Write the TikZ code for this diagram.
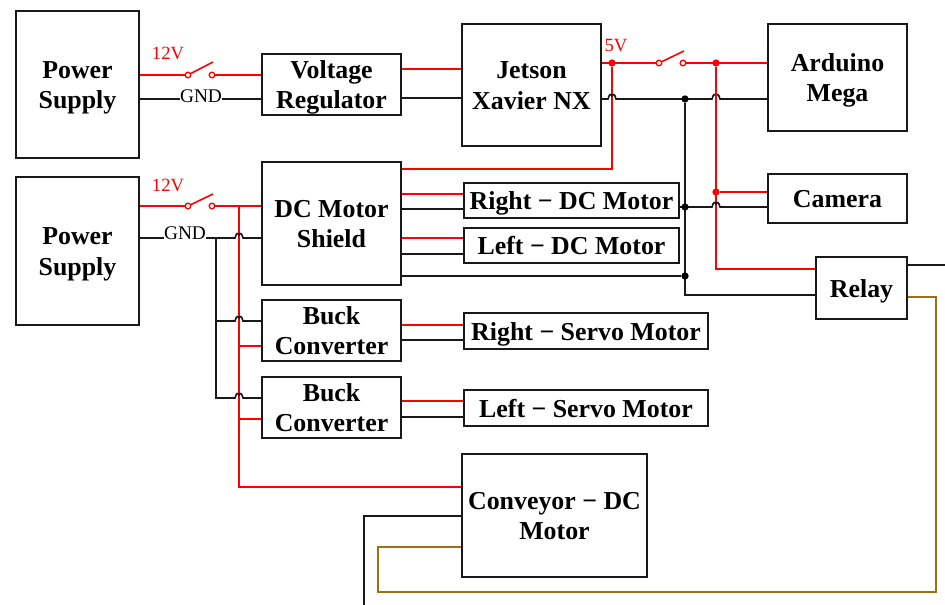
\documentclass[tikz,border=0pt]{standalone}
\usepackage{fontspec}
\usetikzlibrary{backgrounds}
\setmainfont{Liberation Serif}
\definecolor{wred}{RGB}{255,0,0}
\definecolor{wbrown}{RGB}{160,110,20}
\newcommand{\st}{\rule[-4.65pt]{0pt}{23pt}}
\tikzset{
  blk/.style={draw=black!90,line width=1.5pt,fill=white,inner sep=0pt,align=center,
    font=\bfseries\fontsize{19.4}{23}\selectfont},
  rw/.style={draw=wred,line width=1.2pt},
  kw/.style={draw=black!90,line width=1.2pt},
  bw/.style={draw=wbrown,line width=1.2pt},
  terminal/.style={circle,draw=wred,line width=1pt,minimum size=4.2pt,inner sep=0pt},
  rdot/.style={circle,fill=wred,inner sep=0pt,minimum size=5.5pt},
  kdot/.style={circle,fill=black,inner sep=0pt,minimum size=5.5pt},
  lab/.style={inner sep=0pt,font=\fontsize{14}{16}\selectfont},
  gndlab/.style={inner sep=0pt,font=\fontsize{14.5}{16}\selectfont}
}
\newcommand{\bx}[6]{\node[blk,minimum width={(#4-#2)*.75pt},minimum height={(#5-#3)*.75pt}] (#1) at ({(#2+#4)/2},{(#3+#5)/2}) {#6};}
\newcommand{\hop}[2]{-- (#1-4,#2) .. controls (#1-2.5,#2-6) and (#1-1,#2-5) .. (#1,#2-3) .. controls (#1+1,#2-5) and (#1+2.5,#2-6) .. (#1+4,#2)}
\begin{document}
\begin{tikzpicture}[x=.75pt,y=-.75pt]
\useasboundingbox (0,0) rectangle (945,605);
% boxes
\bx{psa}{16}{11}{139}{158}{\st Power\\\st Supply}
\bx{psb}{16}{177}{139}{325}{\st Power\\\st Supply}
\bx{vr}{262}{54}{401}{115}{\st Voltage\\\st Regulator}
\bx{jet}{462}{24}{601}{146}{\st Jetson\\\st Xavier NX}
\bx{ard}{768}{24}{907}{131}{\st Arduino\\\st Mega}
\bx{cam}{768}{174}{907}{223}{\st Camera}
\bx{rel}{816}{257}{907}{319}{\st Relay}
\bx{dcs}{262}{162}{401}{285}{\st DC Motor\\\st Shield}
\bx{rdc}{464}{183}{679}{218}{\st Right − DC Motor}
\bx{ldc}{464}{228}{679}{263}{\st Left − DC Motor}
\bx{bka}{262}{300}{401}{361}{\st Buck\\\st Converter}
\bx{bkb}{262}{377}{401}{438}{\st Buck\\\st Converter}
\bx{rsv}{464}{313}{708}{349}{\st Right − Servo Motor}
\bx{lsv}{464}{390}{708}{426}{\st Left − Servo Motor}
\bx{con}{462}{454}{647}{577}{\st Conveyor − DC\\\st Motor}
% terminals
\node[terminal] (s1a) at (188,75) {};
\node[terminal] (s1b) at (212,75) {};
\node[terminal] (s2a) at (188,206) {};
\node[terminal] (s2b) at (212,206) {};
\node[terminal] (s3a) at (659,63) {};
\node[terminal] (s3b) at (683,63) {};
\coordinate (s1t) at (213,62);
\coordinate (s2t) at (213,194);
\coordinate (s3t) at (684,51);
% junctions
\node[rdot] (j5v) at (612,63) {};
\node[rdot] (jr) at (716,63) {};
\node[rdot] (jcam) at (716,192) {};
\node[kdot] (jk) at (685,99) {};
\node[kdot] (jkcam) at (685,207) {};
\node[kdot] (jkdc) at (685,276) {};
\coordinate (r12) at (239,206);
\coordinate (k12) at (216,238);
% free ends and corners
\coordinate (relayout) at (945,265);
\coordinate (confree) at (364,605);
\coordinate (brA) at (936,297);
\coordinate (brB) at (936,592);
\coordinate (brC) at (378,592);
\coordinate (brD) at (378,547);
% labels
\node[lab,text=wred] (v1) at (168,53) {12V};
\node[lab,text=wred] (v2) at (168,185) {12V};
\node[lab,text=wred] (v3) at (616,46) {5V};
\node[gndlab] (g1) at (201,96) {GND};
\node[gndlab] (g2) at (185,233) {GND};
% wires
\begin{scope}[on background layer]
\draw[rw] (psa.east |- s1a) -- (s1a);
\draw[rw] (s1a) -- (s1t);
\draw[rw] (s1b) -- (vr.west |- s1b);
\draw[kw] (psa.east |- 0,99) -- (g1.west |- 0,99);
\draw[kw] (g1.east |- 0,99) -- (vr.west |- 0,99);
\draw[rw] (vr.east |- 0,69) -- (jet.west |- 0,69);
\draw[kw] (vr.east |- 0,98) -- (jet.west |- 0,98);
\draw[rw] (jet.east |- s3a) -- (s3a);
\draw[rw] (s3a) -- (s3t);
\draw[rw] (s3b) -- (ard.west |- s3b);
\draw[rw] (j5v) -- (612,169) -- (dcs.east |- 0,169);
\draw[kw] (jet.east |- jk) \hop{612}{99} \hop{716}{99} -- (ard.west |- jk);
\draw[kw] (jk) -- (685,295) -- (rel.west |- 0,295);
\draw[rw] (jr) -- (716,269) -- (rel.west |- 0,269);
\draw[rw] (jcam) -- (cam.west |- jcam);
\draw[kw] (rdc.east |- jkcam) \hop{716}{207} -- (cam.west |- jkcam);
\draw[kw] (dcs.east |- jkdc) -- (jkdc);
\draw[rw] (dcs.east |- 0,194) -- (rdc.west |- 0,194);
\draw[kw] (dcs.east |- 0,209) -- (rdc.west |- 0,209);
\draw[rw] (dcs.east |- 0,238) -- (ldc.west |- 0,238);
\draw[kw] (dcs.east |- 0,254) -- (ldc.west |- 0,254);
\draw[rw] (bka.east |- 0,325) -- (rsv.west |- 0,325);
\draw[kw] (bka.east |- 0,340) -- (rsv.west |- 0,340);
\draw[rw] (bkb.east |- 0,401) -- (lsv.west |- 0,401);
\draw[kw] (bkb.east |- 0,417) -- (lsv.west |- 0,417);
\draw[rw] (psb.east |- s2a) -- (s2a);
\draw[rw] (s2a) -- (s2t);
\draw[rw] (s2b) -- (dcs.west |- s2b);
\draw[rw] (r12) -- (239,487) -- (con.west |- 0,487);
\draw[rw] (239,346) -- (bka.west |- 0,346);
\draw[rw] (239,419) -- (bkb.west |- 0,419);
\draw[kw] (psb.east |- 0,238) -- (g2.west |- 0,238);
\draw[kw] (g2.east |- 0,238) \hop{239}{238} -- (dcs.west |- 0,238);
\draw[kw] (k12) -- (216,398) \hop{239}{398} -- (bkb.west |- 0,398);
\draw[kw] (216,321) \hop{239}{321} -- (bka.west |- 0,321);
\draw[kw] (rel.east |- relayout) -- (relayout);
\draw[kw] (con.west |- 0,516) -- (364,516) -- (confree);
\draw[bw] (rel.east |- brA) -- (brA) -- (brB) -- (brC) -- (brD) -- (con.west |- brD);
\end{scope}
\end{tikzpicture}
\end{document}
